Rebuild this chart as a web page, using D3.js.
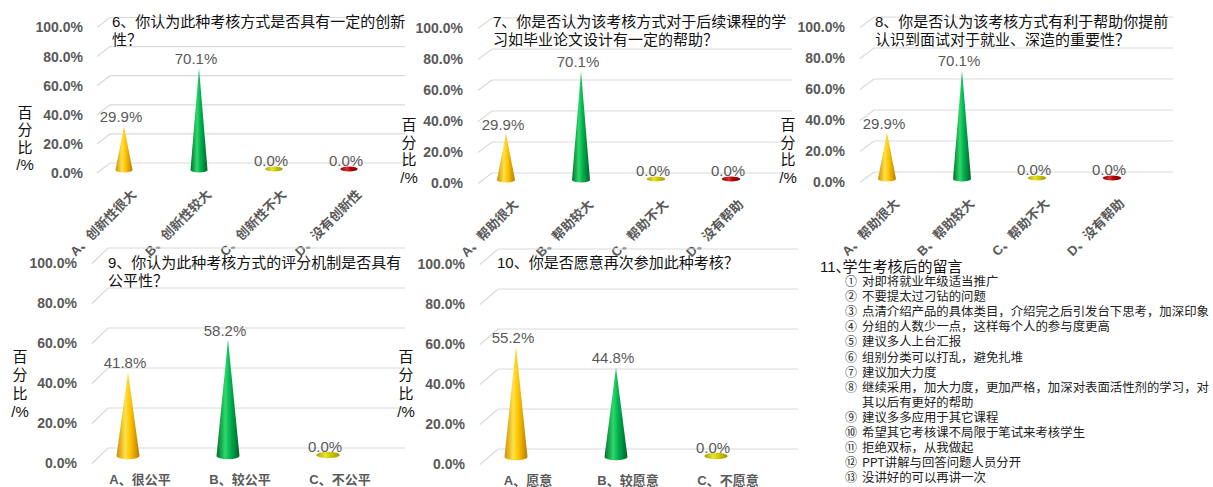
<!DOCTYPE html>
<html>
<head>
<meta charset="utf-8">
<script src="https://cdn.jsdelivr.net/npm/d3@7"></script>
<style>
body{margin:0;background:#fff;}
svg text{font-family:"Liberation Sans","Noto Sans CJK SC",sans-serif;}
svg text.cjk{font-family:"Noto Sans CJK SC",sans-serif;}
</style>
</head>
<body>
<svg id="chart" width="1213" height="487"></svg>
<script>
// 数据
var yTicks=[0,20,40,60,80,100];
var yTitleLines=["百","分","比","/%"];

var q6Title=["6、你认为此种考核方式是否具有一定的创新","性？"];
var q6Categories=["A、创新性很大","B、创新性较大","C、创新性不大","D、没有创新性"];
var q6Values=[29.9,70.1,0.0,0.0];

var q7Title=["7、你是否认为该考核方式对于后续课程的学","习如毕业论文设计有一定的帮助？"];
var q7Categories=["A、帮助很大","B、帮助较大","C、帮助不大","D、没有帮助"];
var q7Values=[29.9,70.1,0.0,0.0];

var q8Title=["8、你是否认为该考核方式有利于帮助你提前","认识到面试对于就业、深造的重要性？"];
var q8Categories=["A、帮助很大","B、帮助较大","C、帮助不大","D、没有帮助"];
var q8Values=[29.9,70.1,0.0,0.0];

var q9Title=["9、你认为此种考核方式的评分机制是否具有","公平性？"];
var q9Categories=["A、很公平","B、较公平","C、不公平"];
var q9Values=[41.8,58.2,0.0];

var q10Title=["10、你是否愿意再次参加此种考核？"];
var q10Categories=["A、愿意","B、较愿意","C、不愿意"];
var q10Values=[55.2,44.8,0.0];

var q11Number="11、";
var q11Title="学生考核后的留言";
var q11Marks=["①","②","③","④","⑤","⑥","⑦","⑧","⑨","⑩","⑪","⑫","⑬"];
var q11Comments=[
	"对即将就业年级适当推广",
	"不要提太过刁钻的问题",
	"点清介绍产品的具体类目，介绍完之后引发台下思考，加深印象",
	"分组的人数少一点，这样每个人的参与度更高",
	"建议多人上台汇报",
	"组别分类可以打乱，避免扎堆",
	"建议加大力度",
	"继续采用，加大力度，更加严格，加深对表面活性剂的学习，对其以后有更好的帮助",
	"建议多多应用于其它课程",
	"希望其它考核课不局限于笔试来考核学生",
	"拒绝双标，从我做起",
	"PPT讲解与回答问题人员分开",
	"没讲好的可以再讲一次"
];

var svg=d3.select("#chart");
svg.append("rect").attr("width",1213).attr("height",487).attr("fill","#fff");

// 圆锥颜色
var palette=[
	{stops:["#d08c00","#ffe24a","#ffc400","#b87a00"]},
	{stops:["#00702e","#2fd86a","#00b050","#006428"]},
	{stops:["#a9a400","#e6e23a","#cfca00","#9c9700"]},
	{stops:["#8a0000","#d83030","#b00000","#7a0000"]}
];
var defs=svg.append("defs");
palette.forEach(function(c,i){
	var lg=defs.append("linearGradient").attr("id","cone"+i)
		.attr("x1","0").attr("x2","1").attr("y1","0").attr("y2","0");
	[0,0.38,0.6,1].forEach(function(o,j){
		lg.append("stop").attr("offset",o).attr("stop-color",c.stops[j]);
	});
});

var fmt=d3.format(".1f");

function drawPanel(p){
	var g=svg.append("g");
	var x=d3.scaleBand().domain(p.categories).range(p.xRange);
	var y=d3.scaleLinear().domain([0,100]).range([p.yBase,p.yTop]);

	// 网格线（带透视）
	g.selectAll(".grid").data(yTicks).enter().append("path")
		.attr("class","grid")
		.attr("d",function(d){
			return "M"+p.gridLeft+","+(y(d)+p.labelDy)
				+"L"+(p.gridLeft+p.depth)+","+(y(d)-p.gridDy)
				+"L"+p.gridRight+","+(y(d)-p.gridDy);
		})
		.attr("fill","none").attr("stroke","#d9d9d9").attr("stroke-width",1.2);

	// y轴
	var ax=g.append("g")
		.attr("transform","translate("+p.tickX+","+p.labelDy+")")
		.call(d3.axisLeft(y).tickValues(yTicks).tickSize(0).tickPadding(0)
			.tickFormat(function(d){return fmt(d)+"%";}));
	ax.select(".domain").remove();
	ax.selectAll("text").attr("fill","#595959")
		.style("font-size","14px").style("font-weight","bold");

	// y轴标题
	g.append("g").selectAll("text").data(yTitleLines).enter().append("text")
		.attr("x",p.yTitleX)
		.attr("y",function(d,i){return p.yTitleY+i*p.yTitleStep;})
		.attr("text-anchor","middle")
		.style("font-size","15px").attr("fill","#111")
		.text(function(d){return d;});

	// 标题
	g.append("g").selectAll("text").data(p.title).enter().append("text")
		.attr("x",p.titleX)
		.attr("y",function(d,i){return p.titleY+i*18;})
		.style("font-size","15px").attr("fill","#111")
		.text(function(d){return d;});

	var w=p.coneW;
	var cones=g.append("g").selectAll("g").data(p.values).enter().append("g");
	cones.each(function(v,i){
		var cx=x(p.categories[i])+x.bandwidth()/2;
		var b=p.yBase;
		var el=d3.select(this);
		if(v>0){
			var t=y(v), ry=w*0.28;
			el.append("path")
				.attr("d","M"+(cx-w)+","+b+"L"+cx+","+t+"L"+(cx+w)+","+b
					+"A"+w+","+ry+" 0 0 1 "+(cx-w)+","+b+"Z")
				.attr("fill","url(#cone"+i+")");
		}else{
			el.append("ellipse")
				.attr("cx",cx).attr("cy",b-1)
				.attr("rx",w*1.02).attr("ry",w*0.28)
				.attr("fill","url(#cone"+i+")");
		}
		el.append("text")
			.attr("x",cx-3).attr("y",y(v)-4)
			.attr("text-anchor","middle")
			.style("font-size","15px").attr("fill","#595959")
			.text(fmt(v)+"%");
	});

	// 分类标签
	var lab=g.append("g").selectAll("text").data(p.categories).enter().append("text")
		.attr("fill","#595959").style("font-size","13px").style("font-weight","bold")
		.text(function(d){return d;});
	if(p.rotate){
		lab.attr("text-anchor","end").attr("dy","0.35em")
			.attr("transform",function(d){
				var cx=x(d)+x.bandwidth()/2;
				return "translate("+(cx+10)+","+(p.yBase+22)+") rotate(-45)";
			});
	}else{
		lab.attr("text-anchor","middle")
			.attr("x",function(d){return x(d)+x.bandwidth()/2+12;})
			.attr("y",p.yBase+28);
	}
}

drawPanel({title:q6Title,categories:q6Categories,values:q6Values,
	xRange:[86.5,386.5],yBase:170,yTop:24.5,tickX:83,labelDy:3,gridDy:7,
	gridLeft:97,depth:13,gridRight:405,coneW:8.5,titleX:112,titleY:27,
	yTitleX:25,yTitleY:117.5,yTitleStep:17.5,rotate:true});
drawPanel({title:q7Title,categories:q7Categories,values:q7Values,
	xRange:[468.5,768.5],yBase:180,yTop:25,tickX:463,labelDy:3.5,gridDy:7,
	gridLeft:478,depth:14,gridRight:792,coneW:9,titleX:493,titleY:27,
	yTitleX:409,yTitleY:130,yTitleStep:17.5,rotate:true});
drawPanel({title:q8Title,categories:q8Categories,values:q8Values,
	xRange:[849.5,1149.5],yBase:179,yTop:24,tickX:845,labelDy:3.5,gridDy:7,
	gridLeft:860,depth:14,gridRight:1173,coneW:9,titleX:875,titleY:27,
	yTitleX:788,yTitleY:130,yTitleStep:17.5,rotate:true});
drawPanel({title:q9Title,categories:q9Categories,values:q9Values,
	xRange:[78,378],yBase:456,yTop:256,tickX:77,labelDy:7.5,gridDy:8,
	gridLeft:92,depth:16,gridRight:405,coneW:11.5,titleX:108,titleY:268,
	yTitleX:20,yTitleY:362,yTitleStep:18.3,rotate:false});
drawPanel({title:q10Title,categories:q10Categories,values:q10Values,
	xRange:[466,766],yBase:457,yTop:257,tickX:465,labelDy:7.5,gridDy:8,
	gridLeft:480,depth:18,gridRight:798,coneW:11.5,titleX:497,titleY:268,
	yTitleX:406,yTitleY:362,yTitleStep:18.3,rotate:false});

// 11、留言
var note=svg.append("g");
var head=note.append("text").attr("x",820).attr("y",272)
	.style("font-size","15px").attr("fill","#111");
head.append("tspan").text(q11Number);
head.append("tspan").attr("dx",-8).text(q11Title);
var lineY=286, step=15.1, maxW=353;
q11Comments.forEach(function(c,i){
	note.append("text").attr("class","cjk").attr("x",845).attr("y",lineY)
		.style("font-size","12px").attr("fill","#222").text(q11Marks[i]);
	// 简单折行
	var t=note.append("text").attr("class","cjk").attr("x",862).attr("y",lineY)
		.style("font-size","12.4px").attr("fill","#222").text(c);
	var n=c.length;
	while(t.node().getComputedTextLength()>maxW && n>1){
		n--; t.text(c.slice(0,n));
	}
	if(n<c.length){
		lineY+=step;
		note.append("text").attr("class","cjk").attr("x",862).attr("y",lineY)
			.style("font-size","12.4px").attr("fill","#222").text(c.slice(n));
	}
	lineY+=step;
});
</script>
</body>
</html>
